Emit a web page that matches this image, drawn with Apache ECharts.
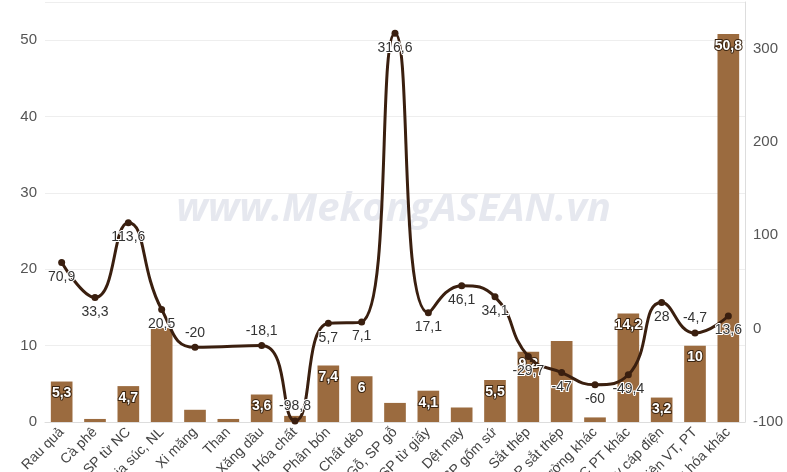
<!DOCTYPE html>
<html>
<head>
<meta charset="utf-8">
<script src="https://cdn.jsdelivr.net/npm/echarts@6/dist/echarts.min.js"></script>
<style>html,body{margin:0;padding:0;background:#fff}#chart{width:787px;height:472px}</style>
</head>
<body>
<div id="chart"></div>
<script>
var categories = ['Rau quả', 'Cà phê', 'SP từ NC', 'Gia súc, NL', 'Xi măng', 'Than', 'Xăng dầu', 'Hóa chất',
    'Phân bón', 'Chất dẻo', 'Gỗ, SP gỗ', 'SP từ giấy', 'Dệt may', 'SP gốm sứ', 'Sắt thép', 'SP sắt thép',
    'KL thường khác', 'MMTB DC PT khác', 'Dây cáp điện', 'Phương tiện VT, PT', 'Hàng hóa khác'];
var barValues = [5.3, 0.4, 4.7, 12.3, 1.6, 0.4, 3.6, 0.8, 7.4, 6, 2.5, 4.1, 1.9, 5.5, 9.2, 10.6, 0.6, 14.2, 3.2, 10, 50.8];
var lineValues = [70.9, 33.3, 113.6, 20.5, -20, null, -18.1, -98.8, 5.7, 7.1, 316.6, 17.1, 46.1, 34.1, -29.7, -47, -60, -49.4, 28, -4.7, 13.6];

var myChart = echarts.init(document.getElementById('chart'));
var aboveIdx = [4, 6, 7, 19];
var hiddenBarLabels = [3, 15];
var fmt = function (v) { return String(v).replace('.', ','); };

var option = {
    animation: false,
    grid: { left: 45, right: 42, top: 2, bottom: 50, containLabel: false, outerBoundsMode: 'none' },
    graphic: [{
        type: 'text', left: 'center', top: 190,
        style: { text: 'www.MekongASEAN.vn', fill: 'rgba(200,205,220,0.45)', font: 'italic bold 40px "Open Sans"' }
    }],
    xAxis: {
        type: 'category',
        data: categories,
        axisLine: { lineStyle: { color: '#ddd' } },
        axisTick: { show: false },
        axisLabel: { rotate: 45, color: '#444', fontSize: 14, interval: 0, margin: 8 }
    },
    yAxis: [
        {
            type: 'value', min: 0, max: 55, interval: 10,
            axisLabel: { color: '#555', fontSize: 15, showMaxLabel: false },
            splitLine: { lineStyle: { color: '#eee' } }
        },
        {
            type: 'value', min: -100, max: 350, interval: 100,
            axisLine: { show: true, lineStyle: { color: '#ddd' } },
            axisLabel: { color: '#555', fontSize: 15, showMaxLabel: false },
            splitLine: { show: false }
        }
    ],
    series: [
        {
            type: 'bar',
            barWidth: '65%',
            itemStyle: { color: '#9b6b3f' },
            data: barValues,
            label: {
                show: true, position: 'insideTop', color: '#fff', fontWeight: 'bold', fontSize: 14,
                textBorderColor: '#3a2410', textBorderWidth: 2,
                formatter: function (p) {
                    return (p.value >= 3 && hiddenBarLabels.indexOf(p.dataIndex) < 0) ? fmt(p.value) : '';
                }
            }
        },
        {
            type: 'line',
            yAxisIndex: 1,
            smooth: true,
            connectNulls: true,
            symbol: 'circle',
            symbolSize: 7,
            lineStyle: { color: '#3a1f0f', width: 3 },
            itemStyle: { color: '#3a1f0f' },
            z: 5,
            data: lineValues.map(function (v, i) {
                return { value: v, label: { position: aboveIdx.indexOf(i) >= 0 ? 'top' : 'bottom' } };
            }),
            label: {
                show: true, color: '#333', fontSize: 14, distance: 4,
                textBorderColor: '#fff', textBorderWidth: 2,
                formatter: function (p) { return fmt(p.value); }
            }
        }
    ]
};
myChart.setOption(option);
</script>
</body>
</html>
